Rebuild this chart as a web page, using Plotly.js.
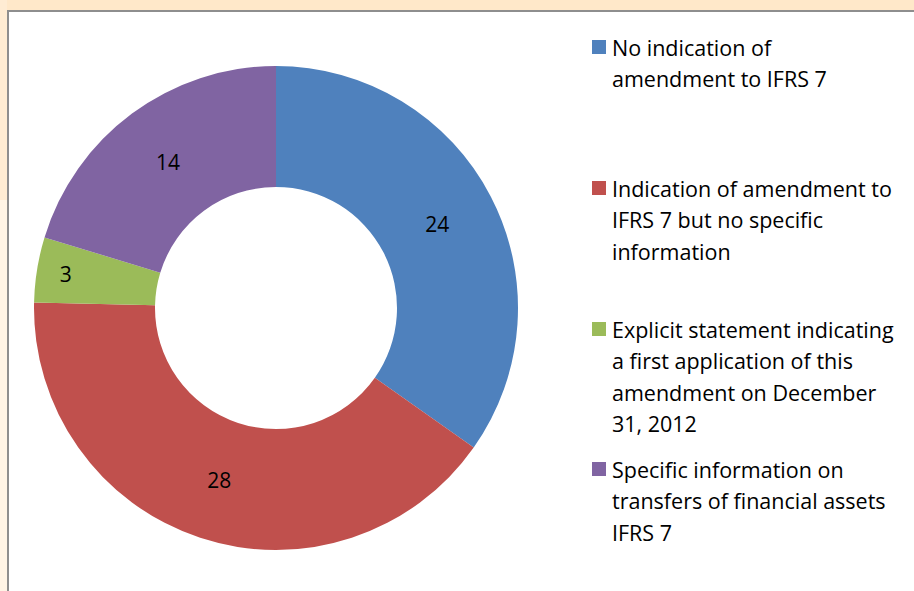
<!DOCTYPE html>
<html>
<head>
<meta charset="utf-8">
<script src="https://cdn.plot.ly/plotly-3.0.1.min.js"></script>
<style>
  html, body { margin: 0; padding: 0; background: #fff; }
  #chart { width: 914px; height: 591px; }
</style>
</head>
<body>
<div id="chart"></div>
<script>
// IFRS 7 amendment disclosure - donut chart

const LABELS = [
  'No indication of<br>amendment to IFRS 7',
  'Indication of amendment to<br>IFRS 7 but no specific<br>information',
  'Explicit statement indicating<br>a first application of this<br>amendment on December<br>31, 2012',
  'Specific information on<br>transfers of financial assets<br>IFRS 7'
];
const VALUES = [24, 28, 3, 14];
const COLORS = ['#4F81BD', '#C0504D', '#9BBB59', '#8064A2'];

const W = 914, H = 591;
const FONT = 'Open Sans';
const LEGEND_TOP = [47, 188, 329, 469]; // px, centre of first line of each entry
const LINE_H = 31.6;

// px -> paper coords
const px = x => x / W;
const py = y => 1 - y / H;

const shapes = [];
const annotations = [];

// custom legend: coloured square + one annotation per text line
LABELS.forEach((lab, i) => {
  const yTop = LEGEND_TOP[i];
  shapes.push({
    type: 'rect', xref: 'paper', yref: 'paper',
    x0: px(592), x1: px(606), y0: py(yTop - 7), y1: py(yTop + 7),
    fillcolor: COLORS[i], line: { width: 0 }
  });
  lab.split('<br>').forEach((line, j) => {
    annotations.push({
      xref: 'paper', yref: 'paper', x: px(610), y: py(yTop + j * LINE_H),
      xanchor: 'left', yanchor: 'middle', showarrow: false,
      text: line, font: { family: FONT, size: 21.5, color: '#000' }
    });
  });
});

// worksheet frame: beige bands on top and left with grey edge
shapes.push(
  { type: 'rect', xref: 'paper', yref: 'paper', layer: 'above',
    x0: 0, x1: 1, y0: py(10), y1: 1, fillcolor: '#FFE8C9', line: { width: 0 } },
  { type: 'rect', xref: 'paper', yref: 'paper', layer: 'above',
    x0: 0, x1: px(7), y0: 0, y1: py(200), fillcolor: '#FFF4E5', line: { width: 0 } },
  { type: 'rect', xref: 'paper', yref: 'paper', layer: 'above',
    x0: 0, x1: px(7), y0: py(200), y1: 1, fillcolor: '#FFECD3', line: { width: 0 } },
  { type: 'line', xref: 'paper', yref: 'paper', layer: 'above',
    x0: px(7), x1: 1, y0: py(11), y1: py(11), line: { color: '#8E8E8E', width: 2 } },
  { type: 'line', xref: 'paper', yref: 'paper', layer: 'above',
    x0: px(8), x1: px(8), y0: 0, y1: py(10), line: { color: '#8E8E8E', width: 2 } }
);

const cx = 276, cy = 308, r = 242;

const trace = {
  type: 'pie',
  labels: LABELS,
  values: VALUES,
  hole: 0.5,
  sort: false,
  direction: 'clockwise',
  rotation: 0,
  marker: { colors: COLORS, line: { width: 0 } },
  textinfo: 'value',
  textposition: 'inside',
  insidetextorientation: 'horizontal',
  textfont: { family: FONT, size: 21, color: '#000' },
  insidetextfont: { family: FONT, size: 21, color: '#000' },
  domain: { x: [px(cx - r), px(cx + r)], y: [py(cy + r), py(cy - r)] },
  showlegend: false,
  hoverinfo: 'label+value'
};

const layout = {
  width: W, height: H,
  margin: { l: 0, r: 0, t: 0, b: 0 },
  paper_bgcolor: '#FFFFFF',
  shapes: shapes,
  annotations: annotations
};

Plotly.newPlot('chart', [trace], layout, { displayModeBar: false, staticPlot: true });
</script>
</body>
</html>
